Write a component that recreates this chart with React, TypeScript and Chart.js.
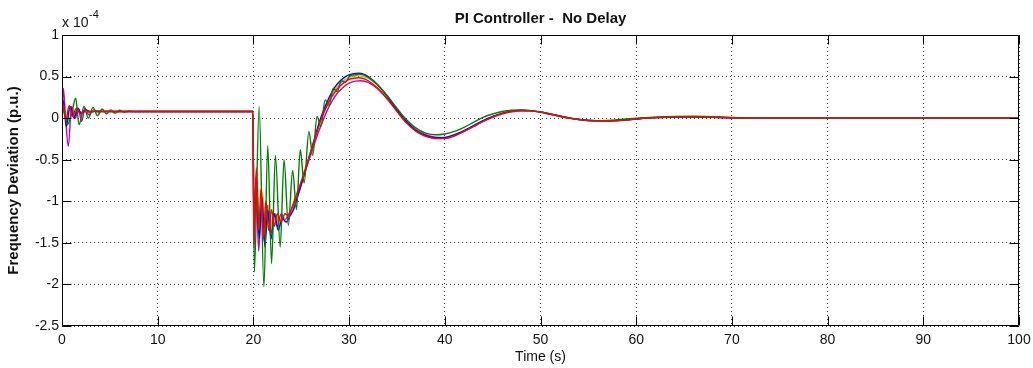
import React, { useEffect, useRef } from 'react';
import { Chart, registerables } from 'chart.js';

Chart.register(...registerables);

const FONT = 'Arial, "Liberation Sans", Helvetica, sans-serif';

// ---- axis ticks ----
const xTicks = [0, 10, 20, 30, 40, 50, 60, 70, 80, 90, 100];
const yTicks = [-2.5, -2, -1.5, -1, -0.5, 0, 0.5, 1];

// ---- shared tail time (s) ----
const tTail = [33, 34, 35, 36, 37, 38, 39, 40, 41, 42, 43, 44, 45, 46, 47, 48, 49, 50, 51, 52, 53, 54, 55, 56, 57, 58, 59, 60, 61, 62, 64, 66, 68, 70, 72, 80, 100];

// ---- red ----
const tRedHead = [0, 0.08, 0.4, 0.75, 1.1, 1.5, 1.9, 2.4, 2.9, 3.5, 4.5, 19.95, 20.05, 20.3, 20.55, 20.8, 21.05, 21.3, 21.6, 21.9, 22.2, 22.5, 22.9, 23.3, 23.7, 24, 24.5, 25, 25.5, 26, 26.5, 27, 27.5, 28, 28.5, 29, 29.5, 30, 30.5, 31, 31.5, 32];
const yRedHead = [0, 0.18, -0.02, 0.15, 0.02, 0.12, 0.05, 0.1, 0.07, 0.085, 0.08, 0.08, -1.5, -0.6, -1.35, -0.85, -1.45, -1.0, -1.35, -1.1, -1.3, -1.15, -1.25, -1.15, -1.18, -1.08, -0.92, -0.76, -0.58, -0.4, -0.22, -0.04, 0.1, 0.22, 0.31, 0.38, 0.43, 0.465, 0.48, 0.485, 0.475, 0.45];
const yRedTail = [0.36, 0.23, 0.08, -0.06, -0.16, -0.22, -0.245, -0.245, -0.215, -0.16, -0.1, -0.04, 0.015, 0.055, 0.08, 0.09, 0.088, 0.075, 0.05, 0.025, 0, -0.018, -0.03, -0.035, -0.035, -0.032, -0.022, -0.01, 0, 0.006, 0.012, 0.014, 0.01, 0.004, 0, 0, 0];

// ---- green ----
const tGreenHead = [0, 0.2, 0.55, 1.0, 1.43, 1.78, 2.3, 2.75, 3.25, 3.7, 4.2, 4.65, 5.1, 5.55, 6.0, 6.5, 7.0, 7.5, 8.0, 19.95, 20.1, 20.6, 21.1, 21.5, 21.9, 22.3, 22.8, 23.2, 23.65, 24.1, 24.5, 24.9, 25.3, 25.8, 26.2, 26.65, 27.05, 27.5, 27.9, 28.35, 28.75, 29.2, 29.6, 30.1, 30.6, 31, 31.5, 32];
const yGreenHead = [0, 0.12, -0.08, 0.05, 0.24, -0.08, 0.14, 0.0, 0.13, 0.03, 0.11, 0.05, 0.1, 0.06, 0.095, 0.07, 0.088, 0.078, 0.08, 0.08, -1.85, 0.14, -2.03, -0.33, -1.75, -0.45, -1.55, -0.5, -1.29, -0.63, -1.1, -0.38, -0.78, -0.16, -0.45, 0.02, -0.1, 0.22, 0.15, 0.36, 0.32, 0.45, 0.43, 0.51, 0.52, 0.53, 0.52, 0.49];
const yGreenTail = [0.4, 0.27, 0.12, -0.02, -0.12, -0.18, -0.2, -0.19, -0.16, -0.11, -0.05, 0.01, 0.05, 0.08, 0.095, 0.1, 0.09, 0.07, 0.045, 0.02, 0, -0.015, -0.025, -0.03, -0.028, -0.02, -0.01, 0, 0.006, 0.012, 0.02, 0.022, 0.018, 0.008, 0, 0, 0];

// ---- blue ----
const tBlueHead = [0, 0.1, 0.45, 0.85, 1.25, 1.65, 2.05, 2.5, 3.0, 3.6, 4.5, 19.95, 20.05, 20.3, 20.6, 20.9, 21.2, 21.5, 21.85, 22.2, 22.6, 23.0, 23.4, 23.8, 24.2, 24.6, 25, 25.5, 26, 26.5, 27, 27.5, 28, 28.5, 29, 29.5, 30, 30.5, 31, 31.5, 32];
const yBlueHead = [0, 0.22, -0.1, 0.14, 0.0, 0.12, 0.05, 0.1, 0.07, 0.085, 0.08, 0.08, -1.3, -0.7, -1.45, -0.95, -1.55, -1.1, -1.45, -1.15, -1.35, -1.2, -1.25, -1.18, -1.1, -0.95, -0.8, -0.6, -0.4, -0.2, -0.01, 0.14, 0.27, 0.37, 0.44, 0.49, 0.52, 0.535, 0.54, 0.53, 0.5];
const yBlueTail = [0.4, 0.26, 0.1, -0.04, -0.15, -0.21, -0.235, -0.232, -0.2, -0.15, -0.09, -0.03, 0.02, 0.06, 0.085, 0.095, 0.09, 0.075, 0.052, 0.027, 0.003, -0.016, -0.028, -0.033, -0.033, -0.028, -0.02, -0.01, 0, 0.007, 0.013, 0.015, 0.01, 0.004, 0, 0, 0];

// ---- olive ----
const tOliveHead = [0, 0.15, 0.45, 0.8, 1.2, 1.6, 2.1, 2.8, 3.5, 19.95, 20.05, 20.35, 20.65, 20.95, 21.3, 21.6, 21.95, 22.3, 22.7, 23.1, 23.5, 23.9, 24.3, 24.8, 25.3, 25.8, 26.3, 26.8, 27.3, 27.8, 28.3, 28.8, 29.3, 29.8, 30.3, 30.8, 31.3, 32];
const yOliveHead = [0, 0.15, -0.05, 0.12, 0.03, 0.1, 0.06, 0.09, 0.08, 0.08, -1.1, -0.65, -1.3, -0.9, -1.4, -1.05, -1.35, -1.15, -1.3, -1.2, -1.25, -1.15, -1.05, -0.88, -0.68, -0.48, -0.29, -0.1, 0.06, 0.19, 0.3, 0.38, 0.44, 0.48, 0.5, 0.51, 0.505, 0.48];
const yOliveTail = [0.39, 0.26, 0.1, -0.04, -0.15, -0.215, -0.24, -0.24, -0.21, -0.155, -0.095, -0.035, 0.018, 0.058, 0.083, 0.092, 0.088, 0.074, 0.05, 0.025, 0.001, -0.017, -0.03, -0.035, -0.034, -0.03, -0.02, -0.01, 0, 0.006, 0.012, 0.014, 0.01, 0.004, 0, 0, 0];

// ---- magenta ----
const tMagentaHead = [0, 0.14, 0.35, 0.66, 1.0, 1.4, 1.7, 2.05, 2.4, 2.8, 3.3, 3.8, 4.5, 5.5, 19.95, 20.05, 20.3, 20.55, 20.85, 21.15, 21.45, 21.8, 22.1, 22.5, 22.9, 23.3, 23.7, 24.2, 24.7, 25.2, 25.7, 26.2, 26.7, 27.2, 27.7, 28.2, 28.7, 29.2, 29.7, 30.2, 30.7, 31.2, 32];
const yMagentaHead = [0, 0.36, 0.05, -0.34, 0.14, 0.0, 0.12, -0.04, 0.12, 0.04, 0.1, 0.07, 0.085, 0.08, 0.08, -1.55, -0.85, -1.6, -1.0, -1.5, -1.05, -1.4, -1.15, -1.3, -1.15, -1.22, -1.15, -1.05, -0.9, -0.72, -0.54, -0.37, -0.2, -0.05, 0.09, 0.2, 0.29, 0.35, 0.4, 0.43, 0.445, 0.45, 0.43];
const yMagentaTail = [0.35, 0.23, 0.09, -0.04, -0.14, -0.2, -0.23, -0.235, -0.21, -0.16, -0.1, -0.04, 0.01, 0.05, 0.075, 0.085, 0.085, 0.072, 0.05, 0.025, 0.002, -0.016, -0.028, -0.033, -0.033, -0.03, -0.02, -0.01, 0, 0.006, 0.011, 0.013, 0.009, 0.004, 0, 0, 0];

function series(tHead: number[], yHead: number[], yTail: number[]) {
  const pts: { x: number; y: number }[] = [];
  const n = Math.min(tHead.length, yHead.length);
  for (let i = 0; i < n; i++) pts.push({ x: tHead[i], y: yHead[i] });
  const m = Math.min(tTail.length, yTail.length);
  for (let i = 0; i < m; i++) pts.push({ x: tTail[i], y: yTail[i] });
  return pts;
}

const framePlugin = {
  id: 'matlabFrame',
  afterDatasetsDraw(chart: any) {
    const { ctx, chartArea: a, scales } = chart;
    const L = Math.round(a.left) + 0.5;
    const R = Math.round(a.right) - 0.5;
    const T = Math.round(a.top) + 0.5;
    const B = Math.round(a.bottom) - 0.5;
    ctx.save();
    ctx.strokeStyle = '#000';
    ctx.lineWidth = 1;
    ctx.setLineDash([]);
    ctx.beginPath();
    ctx.rect(L, T, R - L, B - T);
    const tl = 9;
    scales.x.ticks.forEach((tk: any) => {
      const px = Math.round(scales.x.getPixelForValue(tk.value)) + 0.5;
      ctx.moveTo(px, B);
      ctx.lineTo(px, B - tl);
      ctx.moveTo(px, T);
      ctx.lineTo(px, T + tl);
    });
    scales.y.ticks.forEach((tk: any) => {
      const py = Math.round(scales.y.getPixelForValue(tk.value)) + 0.5;
      ctx.moveTo(L, py);
      ctx.lineTo(L + tl, py);
      ctx.moveTo(R, py);
      ctx.lineTo(R - tl, py);
    });
    ctx.stroke();
    // exponent label
    ctx.fillStyle = '#111';
    ctx.textAlign = 'left';
    ctx.textBaseline = 'alphabetic';
    ctx.font = `14px ${FONT}`;
    const base = 'x 10';
    ctx.fillText(base, a.left, a.top - 8);
    const w = ctx.measureText(base).width;
    ctx.font = `11px ${FONT}`;
    ctx.fillText('-4', a.left + w + 0.5, a.top - 17);
    ctx.restore();
  },
};

export default function App() {
  const ref = useRef<HTMLCanvasElement>(null);
  useEffect(() => {
    if (!ref.current) return;
    const mk = (label: string, color: string, data: { x: number; y: number }[]) => ({
      label,
      data,
      borderColor: color,
      backgroundColor: color,
      borderWidth: 1.4,
      pointRadius: 0,
      fill: false,
      cubicInterpolationMode: 'monotone' as const,
    });
    const chart = new Chart(ref.current, {
      type: 'line',
      data: {
        datasets: [
          mk('red', '#ff0000', series(tRedHead, yRedHead, yRedTail)),
          mk('green', '#008000', series(tGreenHead, yGreenHead, yGreenTail)),
          mk('blue', '#0000ff', series(tBlueHead, yBlueHead, yBlueTail)),
          mk('olive', '#bfbf00', series(tOliveHead, yOliveHead, yOliveTail)),
          mk('magenta', '#bf00bf', series(tMagentaHead, yMagentaHead, yMagentaTail)),
        ],
      },
      options: {
        animation: false,
        responsive: false,
        layout: { padding: { left: 0, right: 14, top: 0, bottom: 0 } },
        plugins: {
          legend: { display: false },
          tooltip: { enabled: false },
          title: { display: false },
        },
        scales: {
          x: {
            type: 'linear',
            position: 'bottom',
            min: 0,
            max: 100,
            afterBuildTicks: (s: any) => {
              s.ticks = xTicks.map((v) => ({ value: v }));
            },
            afterFit: (s: any) => {
              s.height = 42;
              s.paddingLeft = 0;
              s.paddingRight = 0;
            },
            ticks: {
              autoSkip: false,
              maxRotation: 0,
              padding: 6,
              color: '#111',
              font: { family: FONT, size: 14 },
              callback: (v: any) => String(v),
            },
            grid: { color: '#333', lineWidth: 1, drawTicks: false },
            border: { display: false, dash: [1, 3] },
            title: {
              display: true,
              text: 'Time (s)',
              color: '#111',
              font: { family: FONT, size: 14 },
              padding: { top: 0, bottom: 2 },
            },
          },
          xTop: {
            type: 'linear',
            position: 'top',
            min: 0,
            max: 100,
            afterFit: (s: any) => {
              s.height = 35;
              s.paddingLeft = 0;
              s.paddingRight = 0;
            },
            ticks: { display: false },
            grid: { display: false, drawTicks: false },
            border: { display: false },
            title: {
              display: true,
              text: 'PI Controller -  No Delay',
              color: '#111',
              font: { family: FONT, size: 15, weight: 'bold' },
              padding: { top: 10, bottom: 0 },
            },
          },
          y: {
            type: 'linear',
            min: -2.5,
            max: 1,
            afterBuildTicks: (s: any) => {
              s.ticks = yTicks.map((v) => ({ value: v }));
            },
            afterFit: (s: any) => {
              s.width = 62;
              s.paddingTop = 0;
              s.paddingBottom = 0;
            },
            ticks: {
              padding: 3,
              color: '#111',
              font: { family: FONT, size: 14 },
              callback: (v: any) => String(v),
            },
            grid: { color: '#333', lineWidth: 1, drawTicks: false },
            border: { display: false, dash: [1, 3] },
            title: {
              display: true,
              text: 'Frequency Deviation (p.u.)',
              color: '#111',
              font: { family: FONT, size: 15, weight: 'bold' },
              padding: { top: 5, bottom: 0 },
            },
          },
        },
      },
      plugins: [framePlugin],
    } as any);
    return () => chart.destroy();
  }, []);
  return (
    <div style={{ position: 'fixed', left: 0, top: 0, width: 1033, height: 368, background: '#fff' }}>
      <canvas ref={ref} width={1033} height={368} style={{ display: 'block' }} />
    </div>
  );
}
